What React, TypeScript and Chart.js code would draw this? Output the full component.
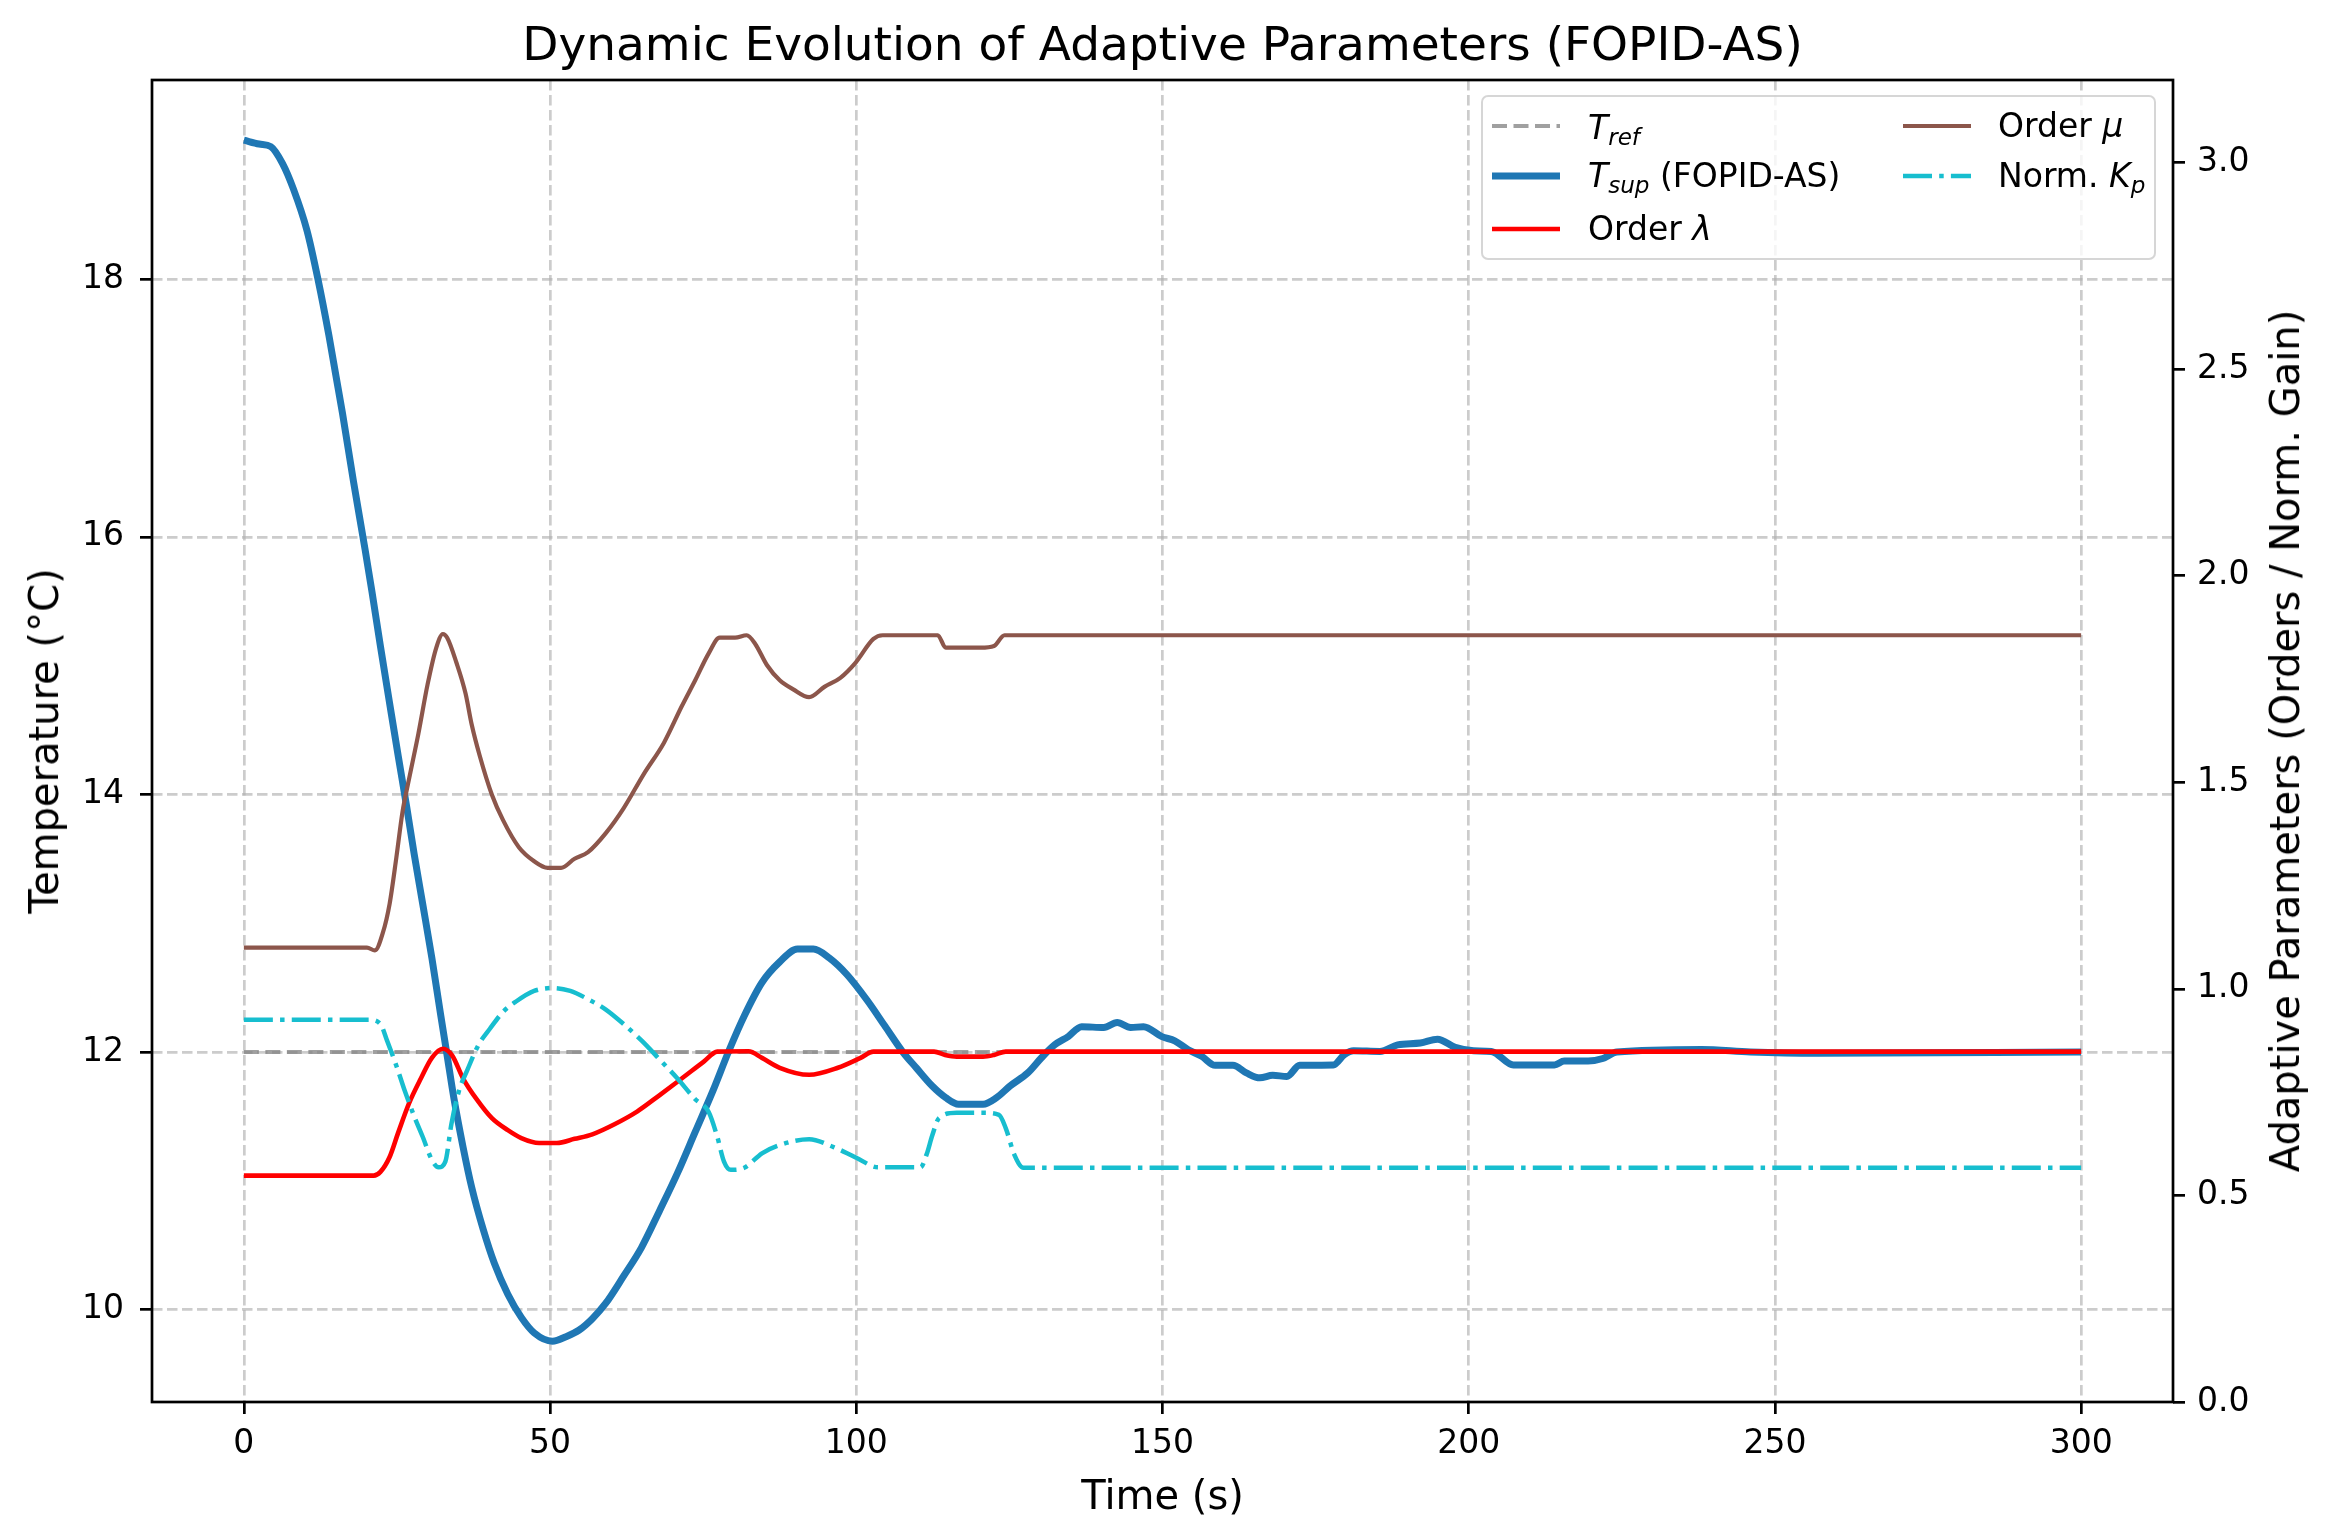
import React, { FC, useEffect, useRef } from 'react'
import Chart from 'chart.js/auto'

const W = 2329
const H = 1537
const FONT = '"DejaVu Sans", Verdana, sans-serif'

// plot box (pixels) used for the layout around the chart
const PLOT = { left: 152, right: 2173, top: 80, bottom: 1402 }

// axis ticks
const xTicks = [0, 50, 100, 150, 200, 250, 300]
const tempTicks = [10, 12, 14, 16, 18]
const paramTicks = [0, 0.5, 1, 1.5, 2, 2.5, 3]

// T_ref (left axis)
const refTime = [0, 300]
const refValues = [12, 12]

// T_sup (FOPID-AS) (left axis, °C)
const tsupTime = [
  0, 2.5, 4.4, 6.3, 8.1, 10.3, 12.1, 13.9, 15.0, 16.1, 17.9, 19.8, 20.9, 22.3, 24.1, 25.2, 26.6, 27.8, 29.2, 30.7,
  32.1, 33.2, 34.3, 35.8, 37.2, 39.1, 40.9, 43.1, 45.3, 47.4, 50.4, 52.6, 54.7, 56.9, 59.1, 62.0, 64.9, 67.9, 70.8,
  73.7, 76.6, 79.2, 81.7, 84.6, 87.5, 90.4, 93.0, 95.6, 98.5, 101.8, 104.7, 107.6, 109.8, 112.4, 114.6, 116.7, 120.7,
  122.9, 125.1, 128.0, 130.2, 132.4, 134.6, 136.8, 140.4, 142.6, 144.8, 146.9, 149.9, 152.0, 154.2, 156.4, 158.6,
  161.5, 163.7, 165.9, 168.0, 170.3, 172.4, 177.9, 179.7, 181.2, 185.5, 188.4, 192.1, 194.9, 197.8, 200.8, 203.7,
  207.3, 214.0, 215.6, 219.5, 221.9, 224.2, 238, 246, 257, 300,
]
const tsupValues = [
  19.08, 19.05, 19.03, 18.9, 18.7, 18.38, 18.0, 17.56, 17.26, 16.96, 16.43, 15.9, 15.58, 15.15, 14.62, 14.3, 13.9,
  13.54, 13.15, 12.73, 12.3, 11.97, 11.64, 11.26, 10.95, 10.62, 10.36, 10.12, 9.94, 9.82, 9.755, 9.79, 9.84, 9.93,
  10.05, 10.26, 10.48, 10.77, 11.06, 11.38, 11.7, 12.01, 12.28, 12.54, 12.7, 12.8, 12.8, 12.73, 12.6, 12.4, 12.2,
  12.0, 11.877, 11.736, 11.646, 11.595, 11.595, 11.646, 11.736, 11.838, 11.954, 12.056, 12.12, 12.197, 12.19, 12.23,
  12.19, 12.197, 12.12, 12.087, 12.018, 11.967, 11.897, 11.897, 11.838, 11.8, 11.82, 11.81, 11.897, 11.9, 11.98,
  12.01, 12.005, 12.056, 12.07, 12.1, 12.036, 12.01, 12.005, 11.9, 11.9, 11.93, 11.93, 11.95, 12.0, 12.02, 12.0,
  11.99, 12.0,
]

// Order lambda (right axis)
const lambdaTime = [
  0, 21.2, 22.3, 23.8, 25.2, 27.0, 28.9, 30.7, 32.5, 34.0, 35.8, 38.0, 40.5, 43.1, 45.3, 48.2, 51.1, 54.0, 56.9, 60.6,
  64.2, 67.9, 71.5, 75.1, 77.3, 82.4, 84.6, 87.5, 92.3, 97.0, 100.7, 102.8, 112.7, 114.5, 116.4, 120.7, 122.5, 124.4,
  300,
]
const lambdaValues = [
  0.548, 0.548, 0.557, 0.593, 0.652, 0.724, 0.783, 0.833, 0.855, 0.839, 0.783, 0.733, 0.687, 0.658, 0.639, 0.627,
  0.627, 0.637, 0.648, 0.673, 0.703, 0.743, 0.783, 0.824, 0.848, 0.849, 0.833, 0.809, 0.792, 0.809, 0.833, 0.848,
  0.848, 0.84, 0.836, 0.836, 0.84, 0.848, 0.848,
]

// Order mu (right axis)
const muTime = [
  0, 20.1, 21.4, 22.7, 23.8, 24.9, 25.9, 27.0, 28.5, 30.0, 31.4, 32.5, 33.2, 34.7, 36.2, 37.2, 38.5, 40.5, 42.3, 44.9,
  47.4, 49.6, 51.8, 54.0, 56.2, 59.1, 62.0, 65.3, 68.6, 71.5, 73.7, 75.9, 77.7, 80.2, 82.1, 83.5, 85.4, 87.5, 89.7,
  92.3, 94.8, 97.4, 99.9, 102.8, 104.3, 113.3, 114.6, 120.3, 122.5, 124.2, 300,
]
const muValues = [
  1.1, 1.1, 1.093, 1.136, 1.206, 1.318, 1.428, 1.51, 1.618, 1.737, 1.825, 1.859, 1.85, 1.79, 1.715, 1.64, 1.565, 1.47,
  1.409, 1.343, 1.309, 1.293, 1.293, 1.315, 1.331, 1.377, 1.437, 1.52, 1.596, 1.684, 1.747, 1.812, 1.85, 1.85, 1.856,
  1.835, 1.784, 1.747, 1.725, 1.706, 1.731, 1.753, 1.79, 1.847, 1.856, 1.856, 1.826, 1.826, 1.83, 1.856, 1.856,
]

// Norm. Kp (right axis)
const kpTime = [
  0, 20.5, 22.3, 23.4, 24.9, 26.3, 27.8, 29.2, 30.7, 31.8, 32.9, 33.9, 35.1, 36.5, 38.3, 40.2, 42.3, 44.5, 47.4, 50.4,
  53.3, 56.2, 59.1, 62.0, 65.0, 67.9, 70.8, 73.7, 75.9, 77.3, 78.4, 79.5, 81.7, 84.6, 87.5, 92.3, 96.3, 99.9, 103.6,
  110.5, 111.5, 112.4, 113.5, 116.4, 120.7, 123.3, 124.4, 125.8, 127.3, 300,
]
const kpValues = [
  0.925, 0.925, 0.915, 0.874, 0.814, 0.752, 0.692, 0.642, 0.586, 0.568, 0.582, 0.674, 0.752, 0.804, 0.864, 0.904,
  0.944, 0.97, 0.995, 1.002, 0.995, 0.975, 0.95, 0.915, 0.874, 0.829, 0.783, 0.733, 0.702, 0.642, 0.582, 0.562, 0.567,
  0.602, 0.622, 0.636, 0.617, 0.592, 0.568, 0.568, 0.6, 0.645, 0.687, 0.7, 0.7, 0.695, 0.663, 0.599, 0.567, 0.567,
]

const GRID = 'rgba(176,176,176,0.65)'
const REF_COLOR = 'rgba(128,128,128,0.75)'
const BLUE = '#1f77b4'
const RED = '#ff0000'
const BROWN = '#8c564b'
const CYAN = '#17becf'
const REF_DASH = [15, 6.5]
const KP_DASH = [29, 7.2, 4.5, 7.2]

const pts = (xs: number[], ys: number[]) => xs.map((x, i) => ({ x, y: ys[i] }))

const framePlugin = {
  id: 'frame',
  afterDatasetsDraw(chart: any) {
    const { ctx, chartArea: a } = chart
    ctx.save()
    ctx.strokeStyle = '#000'
    ctx.lineWidth = 2.7
    ctx.strokeRect(a.left, a.top, a.right - a.left, a.bottom - a.top)
    ctx.restore()
  },
}

const tickFont = { family: FONT, size: 33 }

const axisGrid = (onChart: boolean) => ({
  display: true,
  drawOnChartArea: onChart,
  color: GRID,
  lineWidth: 2.7,
  tickColor: '#000',
  tickLength: 12,
  tickWidth: 2.7,
  tickBorderDash: [],
})

const Handle: FC<{ x: number; y: number; color: string; width: number; dash?: number[] }> = ({
  x,
  y,
  color,
  width,
  dash,
}) => (
  <svg style={{ position: 'absolute', left: x, top: y - 10, overflow: 'visible' }} width={68} height={20}>
    <line x1={0} y1={10} x2={68} y2={10} stroke={color} strokeWidth={width} strokeDasharray={dash ? dash.join(' ') : undefined} />
  </svg>
)

const Sub: FC<{ children: React.ReactNode }> = ({ children }) => (
  <span style={{ fontSize: '0.7em', position: 'relative', top: '0.24em', fontStyle: 'italic' }}>{children}</span>
)

const LegendText: FC<{ x: number; y: number; children: React.ReactNode }> = ({ x, y, children }) => (
  <div style={{ position: 'absolute', left: x, top: y - 18, fontSize: 33, lineHeight: '36px', whiteSpace: 'nowrap' }}>
    {children}
  </div>
)

const App: FC = () => {
  const canvasRef = useRef<HTMLCanvasElement>(null)
  const chartRef = useRef<Chart | null>(null)

  useEffect(() => {
    document.body.style.margin = '0'
    if (!canvasRef.current) return
    const ctx = canvasRef.current.getContext('2d')
    if (!ctx) return

    if (chartRef.current) chartRef.current.destroy()

    chartRef.current = new Chart(ctx, {
      type: 'line',
      data: {
        datasets: [
          {
            label: 'T_ref',
            data: pts(refTime, refValues),
            yAxisID: 'yT',
            borderColor: REF_COLOR,
            borderWidth: 4,
            borderDash: REF_DASH,
            pointRadius: 0,
            order: 5,
          },
          {
            label: 'T_sup (FOPID-AS)',
            data: pts(tsupTime, tsupValues),
            yAxisID: 'yT',
            borderColor: BLUE,
            borderWidth: 7,
            pointRadius: 0,
            cubicInterpolationMode: 'monotone',
            order: 4,
          },
          {
            label: 'Order λ',
            data: pts(lambdaTime, lambdaValues),
            yAxisID: 'yP',
            borderColor: RED,
            borderWidth: 4.6,
            pointRadius: 0,
            cubicInterpolationMode: 'monotone',
            order: 3,
          },
          {
            label: 'Order μ',
            data: pts(muTime, muValues),
            yAxisID: 'yP',
            borderColor: BROWN,
            borderWidth: 4.2,
            pointRadius: 0,
            cubicInterpolationMode: 'monotone',
            order: 2,
          },
          {
            label: 'Norm. Kp',
            data: pts(kpTime, kpValues),
            yAxisID: 'yP',
            borderColor: CYAN,
            borderWidth: 4.5,
            borderDash: KP_DASH,
            pointRadius: 0,
            cubicInterpolationMode: 'monotone',
            order: 1,
          },
        ],
      },
      options: {
        responsive: false,
        animation: false,
        events: [],
        layout: { padding: { top: PLOT.top, left: 0, right: 0, bottom: 0 }, autoPadding: false },
        plugins: { legend: { display: false }, title: { display: false }, tooltip: { enabled: false } },
        scales: {
          x: {
            type: 'linear',
            position: 'bottom',
            min: -15,
            max: 315,
            afterBuildTicks: (axis: any) => {
              axis.ticks = xTicks.map((value) => ({ value }))
            },
            afterFit: (axis: any) => {
              axis.height = H - PLOT.bottom
            },
            ticks: { font: tickFont, color: '#000', padding: 11, maxRotation: 0, autoSkip: false },
            grid: axisGrid(true),
            border: { display: false, dash: [10.5, 4.5] },
          },
          yT: {
            type: 'linear',
            position: 'left',
            min: 9.283,
            max: 19.547,
            afterBuildTicks: (axis: any) => {
              axis.ticks = tempTicks.map((value) => ({ value }))
            },
            afterFit: (axis: any) => {
              axis.width = PLOT.left
            },
            ticks: { font: tickFont, color: '#000', padding: 16, autoSkip: false },
            grid: axisGrid(true),
            border: { display: false, dash: [10.5, 4.5] },
          },
          yP: {
            type: 'linear',
            position: 'right',
            min: 0,
            max: 3.2,
            afterBuildTicks: (axis: any) => {
              axis.ticks = paramTicks.map((value) => ({ value }))
            },
            afterFit: (axis: any) => {
              axis.width = W - PLOT.right
            },
            ticks: {
              font: tickFont,
              color: '#000',
              padding: 12,
              autoSkip: false,
              callback: (v: any) => Number(v).toFixed(1),
            },
            grid: axisGrid(false),
            border: { display: false },
          },
        },
      },
      plugins: [framePlugin],
    } as any)

    return () => {
      if (chartRef.current) {
        chartRef.current.destroy()
        chartRef.current = null
      }
    }
  }, [])

  const cx = (PLOT.left + PLOT.right) / 2
  const cy = (PLOT.top + PLOT.bottom) / 2

  return (
    <div style={{ position: 'relative', width: W, height: H, background: '#fff', fontFamily: FONT, color: '#000' }}>
      <canvas ref={canvasRef} width={W} height={H} style={{ position: 'absolute', left: 0, top: 0 }} />

      <div
        style={{
          position: 'absolute',
          left: cx,
          top: 20,
          transform: 'translateX(-50%)',
          fontSize: 47,
          lineHeight: '47px',
          whiteSpace: 'nowrap',
        }}
      >
        Dynamic Evolution of Adaptive Parameters (FOPID-AS)
      </div>

      <div
        style={{
          position: 'absolute',
          left: cx,
          top: 1475,
          transform: 'translateX(-50%)',
          fontSize: 40,
          lineHeight: '40px',
          whiteSpace: 'nowrap',
        }}
      >
        Time (s)
      </div>

      <div
        style={{
          position: 'absolute',
          left: 44,
          top: cy,
          transform: 'translate(-50%, -50%) rotate(-90deg)',
          fontSize: 40,
          lineHeight: '40px',
          whiteSpace: 'nowrap',
        }}
      >
        Temperature (°C)
      </div>

      <div
        style={{
          position: 'absolute',
          left: 2285,
          top: cy,
          transform: 'translate(-50%, -50%) rotate(-90deg)',
          fontSize: 40,
          lineHeight: '40px',
          whiteSpace: 'nowrap',
        }}
      >
        Adaptive Parameters (Orders / Norm. Gain)
      </div>

      <div
        style={{
          position: 'absolute',
          left: 1481,
          top: 95,
          width: 675,
          height: 165,
          boxSizing: 'border-box',
          border: '2.7px solid rgba(204,204,204,0.8)',
          borderRadius: 7,
          background: 'rgba(255,255,255,0.8)',
        }}
      />

      <Handle x={1492} y={126} color={REF_COLOR} width={4} dash={REF_DASH} />
      <LegendText x={1588} y={128}>
        <i>T</i>
        <Sub>ref</Sub>
      </LegendText>

      <Handle x={1492} y={176} color={BLUE} width={7} />
      <LegendText x={1588} y={176}>
        <i>T</i>
        <Sub>sup</Sub> (FOPID-AS)
      </LegendText>

      <Handle x={1492} y={229} color={RED} width={4.6} />
      <LegendText x={1588} y={229}>
        Order <i>λ</i>
      </LegendText>

      <Handle x={1903} y={126} color={BROWN} width={4.2} />
      <LegendText x={1998} y={126}>
        Order <i>μ</i>
      </LegendText>

      <Handle x={1903} y={176} color={CYAN} width={4.5} dash={KP_DASH} />
      <LegendText x={1998} y={176}>
        Norm. <i>K</i>
        <Sub>p</Sub>
      </LegendText>
    </div>
  )
}

export default App
